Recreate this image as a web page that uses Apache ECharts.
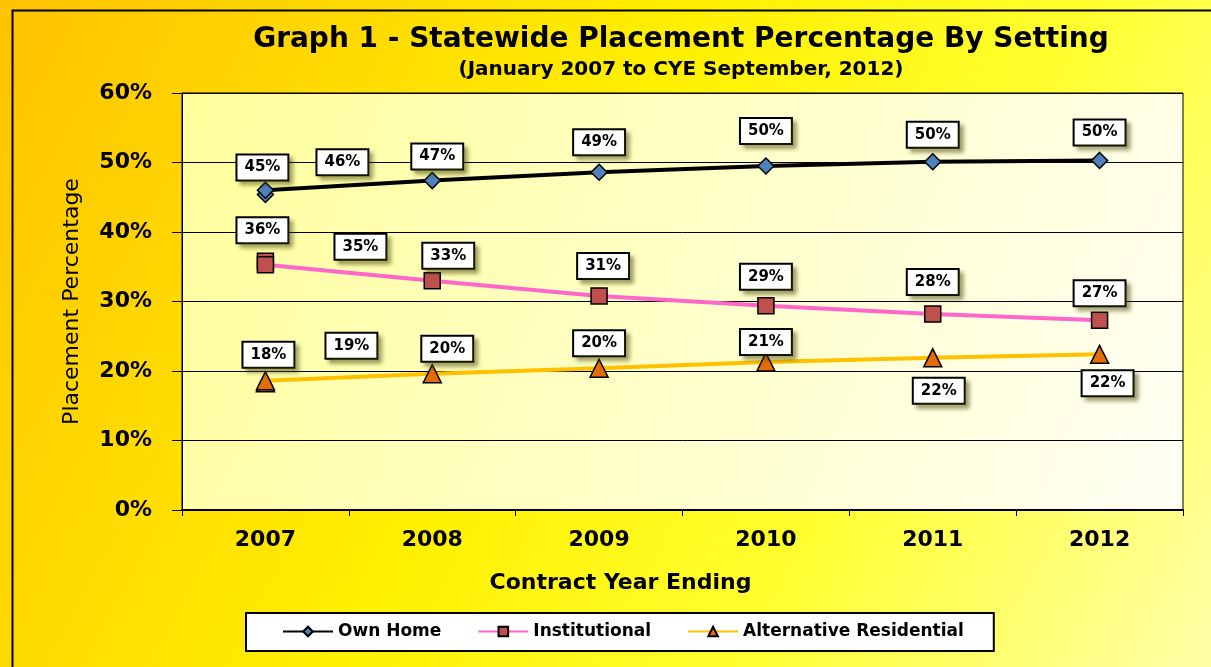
<!DOCTYPE html>
<html>
<head>
<meta charset="utf-8">
<title>Graph 1 - Statewide Placement Percentage By Setting</title>
<script src="https://cdn.jsdelivr.net/npm/echarts@6/dist/echarts.min.js"></script>
<style>
  html, body { margin: 0; padding: 0; background: #fff; }
  #main { width: 1211px; height: 667px; }
</style>
</head>
<body>
<div id="main"></div>
<script>
// categories on the x axis
var years = ['2007', '2008', '2009', '2010', '2011', '2012'];
// position of each point on the category axis (Jan 2007 and CYE 2007 share 2007)
var pointYear = [0, 0, 1, 2, 3, 4, 5];
// series values (percent)
var ownHome = [45.4, 46.0, 47.4, 48.6, 49.5, 50.1, 50.3];
var institutional = [35.8, 35.3, 33.0, 30.8, 29.4, 28.2, 27.3];
var altResidential = [18.3, 18.6, 19.6, 20.4, 21.3, 21.9, 22.4];
// y axis ticks
var yTicks = [0, 10, 20, 30, 40, 50, 60];

// where each data label sits relative to its marker (px)
var ownHomeLabelPos = [[-3, -27], [77, -28], [5, -24], [0, -30], [0, -35], [0, -27], [0, -28]];
var institutionalLabelPos = [[-3, -31], [95, -18], [16, -25], [4, -30], [0, -29], [0, -32], [0, -27]];
var altLabelPos = [[3, -28], [86, -35], [15, -25], [0, -25], [0, -20], [6, 33], [8, 29]];

var boldFont = 'DejaVu Sans';

var myChart = echarts.init(document.getElementById('main'));

function buildData(values, offsets) {
    var out = [];
    for (var i = 0; i < values.length; i++) {
        out.push({
            value: [pointYear[i], values[i]],
            label: { offset: offsets[i] }
        });
    }
    return out;
}

var labelStyle = {
    show: true,
    position: 'inside',
    formatter: function (p) { return Math.round(p.value[1]) + '%'; },
    color: '#000',
    fontFamily: boldFont,
    fontWeight: 'bold',
    fontSize: 15,
    backgroundColor: '#fff',
    borderColor: '#000',
    borderWidth: 2,
    padding: [5, 7, 4, 7],
    shadowColor: 'rgba(60,60,0,0.4)',
    shadowBlur: 4,
    shadowOffsetX: 4,
    shadowOffsetY: 4
};

var option = {
    backgroundColor: {
        type: 'linear', x: 0, y: 0, x2: 1, y2: 1,
        colorStops: [
            { offset: 0, color: '#FFC200' },
            { offset: 0.45, color: '#FFF000' },
            { offset: 0.7, color: '#FFFF30' },
            { offset: 1, color: '#FFFFA8' }
        ]
    },
    textStyle: { fontFamily: boldFont },
    graphic: [{
        type: 'rect',
        left: 10, top: 8,
        shape: { width: 1205, height: 665 },
        style: { fill: 'none', stroke: '#000', lineWidth: 2 },
        silent: true
    }],
    title: {
        text: 'Graph 1 - Statewide Placement Percentage By Setting',
        subtext: '(January 2007 to CYE September, 2012)',
        left: 676,
        textAlign: 'center',
        top: 21,
        itemGap: 6,
        textStyle: { fontFamily: boldFont, fontSize: 28, fontWeight: 'bold', color: '#000' },
        subtextStyle: { fontFamily: boldFont, fontSize: 20, fontWeight: 'bold', color: '#000' }
    },
    legend: {
        bottom: 16,
        left: 246,
        width: 747,
        padding: [10, 30, 11, 36],
        backgroundColor: '#fff',
        borderColor: '#000',
        borderWidth: 2,
        itemWidth: 50,
        itemHeight: 12,
        itemGap: 36,
        textStyle: { fontFamily: boldFont, fontSize: 17, fontWeight: 'bold', color: '#000' },
        data: ['Own Home', 'Institutional', 'Alternative Residential']
    },
    grid: {
        left: 182,
        right: 28,
        top: 93,
        bottom: 157,
        show: true,
        borderColor: '#000',
        borderWidth: 1,
        backgroundColor: {
            type: 'linear', x: 0, y: 0, x2: 1, y2: 1,
            colorStops: [
                { offset: 0, color: '#FFFF9C' },
                { offset: 1, color: '#FFFFF4' }
            ]
        }
    },
    xAxis: {
        type: 'category',
        data: years,
        boundaryGap: true,
        name: 'Contract Year Ending',
        nameLocation: 'middle',
        nameGap: 62,
        nameTextStyle: {
            fontFamily: boldFont, fontSize: 22, fontWeight: 'bold', color: '#000',
            padding: [0, 124, 0, 0]
        },
        axisLine: { lineStyle: { color: '#000', width: 2 } },
        axisTick: { show: true, length: 6, lineStyle: { color: '#000' } },
        axisLabel: { fontFamily: boldFont, fontSize: 22, fontWeight: 'bold', color: '#000', margin: 19 }
    },
    yAxis: {
        type: 'value',
        min: yTicks[0],
        max: yTicks[yTicks.length - 1],
        interval: 10,
        name: 'Placement Percentage',
        nameLocation: 'middle',
        nameGap: 99,
        nameTextStyle: { fontFamily: boldFont, fontSize: 22, color: '#000' },
        axisLine: { show: true, lineStyle: { color: '#000', width: 1 } },
        axisTick: { show: true, length: 10, lineStyle: { color: '#000' } },
        axisLabel: {
            fontFamily: boldFont, fontSize: 22, fontWeight: 'bold', color: '#000', margin: 30,
            formatter: '{value}%'
        },
        splitLine: { show: true, lineStyle: { color: '#000', width: 1 } }
    },
    series: [
        {
            name: 'Own Home',
            type: 'line',
            data: buildData(ownHome, ownHomeLabelPos),
            symbol: 'diamond',
            symbolSize: 16,
            lineStyle: { color: '#000', width: 4 },
            itemStyle: { color: '#4F81BD', borderColor: '#000', borderWidth: 1.5 },
            label: labelStyle,
            z: 4
        },
        {
            name: 'Institutional',
            type: 'line',
            data: buildData(institutional, institutionalLabelPos),
            symbol: 'rect',
            symbolSize: 16,
            lineStyle: { color: '#FF66CC', width: 4 },
            itemStyle: { color: '#C0504D', borderColor: '#000', borderWidth: 1.5 },
            label: labelStyle,
            z: 3
        },
        {
            name: 'Alternative Residential',
            type: 'line',
            data: buildData(altResidential, altLabelPos),
            symbol: 'triangle',
            symbolSize: 18,
            lineStyle: { color: '#FFC000', width: 4 },
            itemStyle: { color: '#E36C09', borderColor: '#000', borderWidth: 1.5 },
            label: labelStyle,
            z: 2
        }
    ]
};

myChart.setOption(option);
</script>
</body>
</html>
